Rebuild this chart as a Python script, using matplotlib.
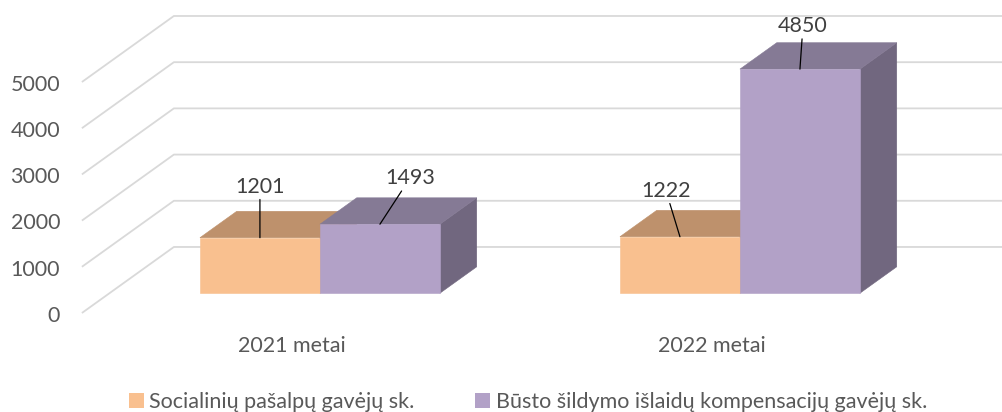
import matplotlib
matplotlib.use("Agg")
import matplotlib.pyplot as plt
from matplotlib.patches import Polygon, Patch

# ---- data ----
categories = ["2021 metai", "2022 metai"]
series_names = ["Socialinių pašalpų gavėjų sk.",
                "Būsto šildymo išlaidų kompensacijų gavėjų sk."]
social = [1201, 1222]
heating = [1493, 4850]
y_ticks = [0, 1000, 2000, 3000, 4000, 5000]

# ---- style ----
FONT = ["Lato", "DejaVu Sans"]
plt.rcParams['font.family'] = FONT
FS = 15.5
TXT = "#595959"
LBL = "#404040"
GRID = "#d9d9d9"
faces = {
    0: dict(front="#F9C08F", top="#BE916C", side="#A57C5B"),
    1: dict(front="#B2A1C7", top="#857A95", side="#71677F"),
}

W, H = 1003, 412
fig = plt.figure(figsize=(W / 100, H / 100), dpi=100)
ax = fig.add_axes([0, 0, 1, 1])
ax.set_xlim(-0.696, 1.692)
ax.set_ylim(-2143, 6775)
ax.axis("off")

# oblique projection for the 3-D look: depth d in [0, 1]
DX, DV = 0.219, 1429
def P(x, v, d):
    return (x + d * DX, v + d * DV)

X_LEFT = -0.501
BAR_W = 0.2857
D0, D1 = 0.3, 0.7

# gridlines (side wall + back wall)
for v in y_ticks:
    a = P(X_LEFT, v, 0)
    b = P(X_LEFT, v, 1)
    c = P(2.5, v, 1)
    ax.plot([a[0], b[0], c[0]], [a[1], b[1], c[1]], color=GRID, lw=1.3,
            zorder=1, solid_capstyle="butt")
    ax.text(a[0] - 0.052, v - 60, f"{v}", ha="right", va="center",
            fontsize=FS, color=TXT)

def box(x0, x1, v, s, z):
    col = faces[s]
    front = [P(x0, 0, D0), P(x1, 0, D0), P(x1, v, D0), P(x0, v, D0)]
    top = [P(x0, v, D0), P(x1, v, D0), P(x1, v, D1), P(x0, v, D1)]
    side = [P(x1, 0, D0), P(x1, 0, D1), P(x1, v, D1), P(x1, v, D0)]
    for pts, fc in ((side, col["side"]), (top, col["top"]), (front, col["front"])):
        ax.add_patch(Polygon(pts, closed=True, facecolor=fc, edgecolor=fc,
                             lw=0.4, zorder=z))

label_offsets = {  # (dx, dy) in pixels from bar top-front centre
    (0, 0): (0, 51), (0, 1): (30, 46),
    (1, 0): (-14, 46), (1, 1): (3, 43),
}

for i, cat in enumerate(categories):
    vals = [social[i], heating[i]]
    for s, v in enumerate(vals):
        x0 = i - BAR_W if s == 0 else i
        x1 = x0 + BAR_W
        box(x0, x1, v, s, 2 + s)
        top_pt = P((x0 + x1) / 2, v, D0)
        dx, dy = label_offsets[(i, s)]
        ax.annotate(f"{v}", xy=top_pt, xytext=(dx * 0.72, dy * 0.72),
                    textcoords="offset points", ha="center", va="center",
                    fontsize=FS, color=LBL, zorder=10,
                    arrowprops=dict(arrowstyle="-", color="black", lw=0.9,
                                    shrinkA=0, shrinkB=0))
    base = P(i, 0, 0)
    ax.annotate(cat, xy=base, xytext=(0, -33 * 0.72), textcoords="offset points",
                ha="center", va="center", fontsize=FS, color=TXT)

handles = [Patch(facecolor=faces[0]["front"], edgecolor="none"),
           Patch(facecolor=faces[1]["front"], edgecolor="none")]
fig.legend(handles, series_names, loc="center", bbox_to_anchor=(528 / W, 1 - 402 / H),
           ncol=2, frameon=False, fontsize=FS, labelcolor=TXT,
           handlelength=0.7, handleheight=0.7, handletextpad=0.25,
           columnspacing=2.8)

fig.savefig("out.png", dpi=100)
